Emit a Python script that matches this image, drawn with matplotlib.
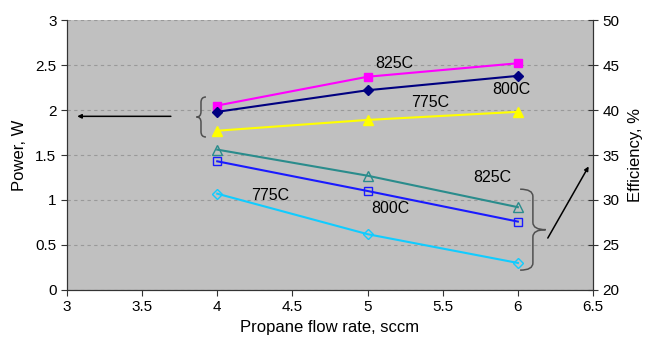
import matplotlib.pyplot as plt
from matplotlib.path import Path
from matplotlib.patches import PathPatch

plt.rcParams['font.family'] = ['Liberation Sans', 'DejaVu Sans']

flow = [4, 5, 6]

# power, W (left axis)
power_825 = [2.05, 2.37, 2.52]
power_800 = [1.98, 2.22, 2.38]
power_775 = [1.77, 1.89, 1.98]

# efficiency, % (right axis)
eff_825 = [35.6, 32.7, 29.2]
eff_800 = [34.3, 31.0, 27.6]
eff_775 = [30.7, 26.2, 23.0]


def brace(ax, x_tip, x_mid, x_end, y0, y1, r, color='#505050'):
    ym = (y0 + y1) / 2.0
    verts = [(x_end, y1), (x_mid, y1), (x_mid, y1 - r),
             (x_mid, ym + r), (x_mid, ym), (x_tip, ym),
             (x_mid, ym), (x_mid, ym - r),
             (x_mid, y0 + r), (x_mid, y0), (x_end, y0)]
    codes = [Path.MOVETO, Path.CURVE3, Path.CURVE3,
             Path.LINETO, Path.CURVE3, Path.CURVE3,
             Path.CURVE3, Path.CURVE3,
             Path.LINETO, Path.CURVE3, Path.CURVE3]
    ax.add_patch(PathPatch(Path(verts, codes), fill=False, ec=color, lw=1.1,
                           zorder=5))


fig = plt.figure(figsize=(6.56, 3.46), dpi=100)
ax = fig.add_axes([0.102, 0.162, 0.802, 0.78])
ax.set_facecolor('#c0c0c0')
ax2 = ax.twinx()

ax.plot(flow, power_825, c='#ff00ff', marker='s', ms=6, lw=1.5, zorder=4)
ax.plot(flow, power_800, c='#000080', marker='D', ms=5, lw=1.5, zorder=4)
ax.plot(flow, power_775, c='#ffff00', marker='^', ms=7, lw=1.5, zorder=4)

ax2.plot(flow, eff_825, c='#2a8c8c', marker='^', ms=7, mfc='none', lw=1.5)
ax2.plot(flow, eff_800, c='#1a1aff', marker='s', ms=6, mfc='none', lw=1.5)
ax2.plot(flow, eff_775, c='#11ccff', marker='D', ms=5, mfc='none', lw=1.5)

ax.set_xlim(3, 6.5)
ax.set_ylim(0, 3)
ax2.set_ylim(20, 50)
ax.set_xticks([3, 3.5, 4, 4.5, 5, 5.5, 6, 6.5])
ax.set_xticklabels(['3', '3.5', '4', '4.5', '5', '5.5', '6', '6.5'])
ax.set_yticks([0, 0.5, 1, 1.5, 2, 2.5, 3])
ax.set_yticklabels(['0', '0.5', '1', '1.5', '2', '2.5', '3'])
ax2.set_yticks([20, 25, 30, 35, 40, 45, 50])

ax.yaxis.grid(True, ls=(0, (3, 3)), color='#999999', lw=0.8)
ax.tick_params(labelsize=11, length=4, color='#333333')
ax2.tick_params(labelsize=11, length=7, direction='inout', color='#333333')
for a in (ax, ax2):
    a.spines['top'].set_visible(False)
    for s in ('left', 'right', 'bottom'):
        a.spines[s].set_color('#333333')

ax.set_xlabel('Propane flow rate, sccm', fontsize=12, labelpad=4)
ax.set_ylabel('Power, W', fontsize=12, labelpad=6)
ax2.set_ylabel('Efficiency, %', fontsize=12, labelpad=6)

# series labels
lab = dict(fontsize=11.5, ha='center', va='center')
ax.text(5.18, 2.52, '825C', **lab)
ax.text(5.96, 2.23, '800C', **lab)
ax.text(5.415, 2.08, '775C', **lab)
ax.text(5.83, 1.245, '825C', **lab)
ax.text(5.155, 0.91, '800C', **lab)
ax.text(4.35, 1.055, '775C', **lab)

# braces and arrows
brace(ax, 3.862, 3.892, 3.925, 1.70, 2.145, 0.06)
brace(ax, 6.185, 6.10, 6.015, 0.22, 1.12, 0.08)
ax.annotate('', xy=(3.05, 1.93), xytext=(3.71, 1.93),
            arrowprops=dict(arrowstyle='-|>', color='black', lw=1.1,
                            mutation_scale=6))
ax.annotate('', xy=(6.48, 1.40), xytext=(6.19, 0.55),
            arrowprops=dict(arrowstyle='-|>', color='black', lw=1.1,
                            mutation_scale=6))

fig.savefig('out.png', dpi=100)
